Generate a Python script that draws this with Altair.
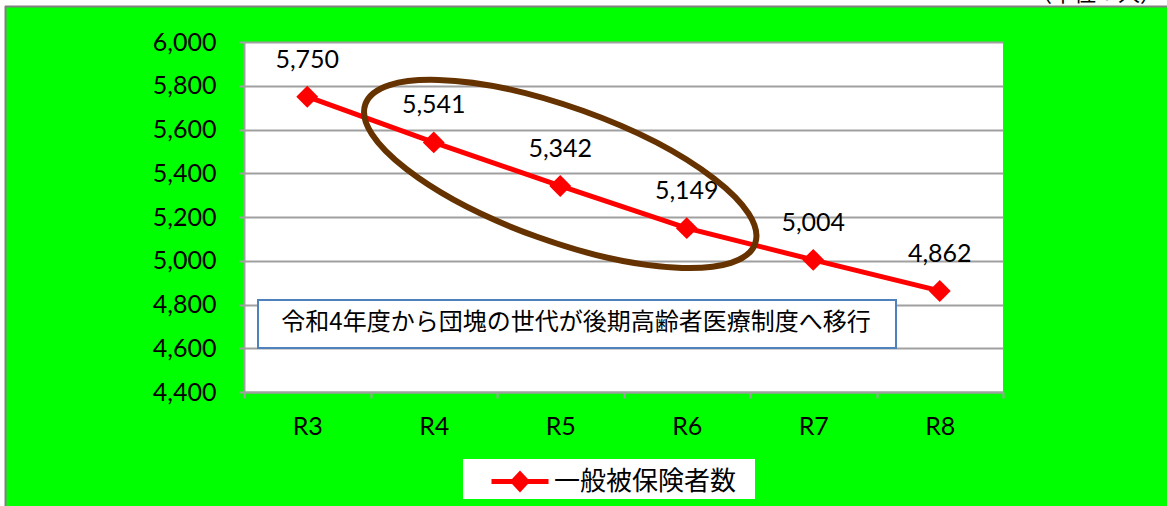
import altair as alt
import pandas as pd

# ---- data ----
categories = ["R3", "R4", "R5", "R6", "R7", "R8"]
values = [5750, 5541, 5342, 5149, 5004, 4862]
series_name = "一般被保険者数"
y_ticks = [4400, 4600, 4800, 5000, 5200, 5400, 5600, 5800, 6000]
note_text = "令和4年度から団塊の世代が後期高齢者医療制度へ移行"
unit_text = "（単位：人）"
highlight_category = ["R5"]
highlight_value = [5397]

df = pd.DataFrame({"年度": categories, "人数": values, "系列": [series_name] * len(categories)})
hl = pd.DataFrame({"年度": highlight_category, "人数": highlight_value})

W, H = 759, 350
PAD_L, PAD_T = 244, 42
NUM_FONT = "Lato"
JP_FONT = "Noto Sans CJK JP"
GRID = "#a0a0a0"
RED = "#FF0000"

x_enc = alt.X(
    "年度:N",
    sort=categories,
    bandPosition=0.5,
    scale=alt.Scale(type="band", domain=categories, paddingInner=0, paddingOuter=0),
    axis=alt.Axis(
        title=None, labelAngle=0, tickBand="extent", grid=False,
        domainColor=GRID, domainWidth=2, tickColor=GRID, tickWidth=2, tickSize=6,
        labelPadding=16, labelFont=NUM_FONT, labelFontSize=25, labelColor="black",
    ),
)
y_enc = alt.Y(
    "人数:Q",
    scale=alt.Scale(domain=[4400, 6000], nice=False, zero=False),
    axis=alt.Axis(
        title=None, values=y_ticks, format=",.0f", grid=True, gridColor=GRID, gridWidth=2,
        domainColor=GRID, domainWidth=2, tickColor=GRID, tickWidth=2, tickSize=5,
        labelPadding=23, labelFont=NUM_FONT, labelFontSize=25, labelColor="black",
    ),
)

one = alt.Data(values=[{}])

# decorative frame: white strip at top/left with a grey border line
frame_top = alt.Chart(one).mark_rect(color="white").encode(
    x=alt.value(-PAD_L), x2=alt.value(1167 - PAD_L), y=alt.value(-PAD_T), y2=alt.value(6 - PAD_T))
frame_left = alt.Chart(one).mark_rect(color="white").encode(
    x=alt.value(-PAD_L), x2=alt.value(5 - PAD_L), y=alt.value(-PAD_T), y2=alt.value(506 - PAD_T))
border_top = alt.Chart(one).mark_rule(color="#808080", strokeWidth=2).encode(
    x=alt.value(5 - PAD_L), x2=alt.value(1167 - PAD_L), y=alt.value(6.5 - PAD_T))
border_left = alt.Chart(one).mark_rule(color="#808080", strokeWidth=2).encode(
    x=alt.value(5.5 - PAD_L), y=alt.value(6 - PAD_T), y2=alt.value(506 - PAD_T))
unit = alt.Chart(one).mark_text(
    text=unit_text, font=JP_FONT, fontSize=22, align="right", baseline="alphabetic", color="black"
).encode(x=alt.value(1162 - PAD_L), y=alt.value(1 - PAD_T))

# annotation text box
note_box = alt.Chart(one).mark_rect(fill="white", stroke="#4F81BD", strokeWidth=2).encode(
    x=alt.value(258 - PAD_L), x2=alt.value(896 - PAD_L), y=alt.value(300 - PAD_T), y2=alt.value(348 - PAD_T))
note = alt.Chart(one).mark_text(
    text=note_text, font=JP_FONT, fontSize=24, align="center", baseline="middle", color="black"
).encode(x=alt.value(576 - PAD_L), y=alt.value(323 - PAD_T))

# legend background box
legend_box = alt.Chart(one).mark_rect(fill="white").encode(
    x=alt.value(463 - PAD_L), x2=alt.value(755 - PAD_L), y=alt.value(459 - PAD_T), y2=alt.value(499 - PAD_T))

legend_symbol = "M -1 0 L 1 0 M -0.24 0 L 0 -0.26 L 0.24 0 L 0 0.26 Z"

base = alt.Chart(df)
line = base.mark_line(strokeWidth=5).encode(
    x=x_enc, y=y_enc,
    color=alt.Color(
        "系列:N",
        scale=alt.Scale(domain=[series_name], range=[RED]),
        legend=alt.Legend(
            title=None, orient="none", legendX=489 - PAD_L, legendY=479 - PAD_T - 28.5,
            symbolType=legend_symbol, symbolSize=57 * 57, symbolStrokeWidth=5,
            symbolFillColor=RED, symbolStrokeColor=RED, symbolOpacity=1,
            labelFont=JP_FONT, labelFontSize=26, labelColor="black", labelOffset=3,
            padding=0, labelLimit=400,
        ),
    ),
)
points = base.mark_point(shape="diamond", filled=True, size=480, color=RED, opacity=1).encode(x=x_enc, y=y_enc)
labels = base.mark_text(font=NUM_FONT, fontSize=25, dy=-37, color="black", baseline="middle").encode(
    x=x_enc, y=y_enc, text=alt.Text("人数:Q", format=","))

ellipse_path = ("M -1 0 C -1 -0.179 -0.552 -0.324 0 -0.324 C 0.552 -0.324 1 -0.179 1 0 "
                "C 1 0.179 0.552 0.324 0 0.324 C -0.552 0.324 -1 0.179 -1 0 Z")
ellipse = alt.Chart(hl).mark_point(
    shape=ellipse_path, size=414 * 414, angle=19.7, filled=False, stroke="#663300",
    strokeWidth=6, opacity=1,
).encode(x=x_enc, y=y_enc)

chart = alt.layer(
    frame_top, frame_left, border_top, border_left, unit,
    note_box, note, legend_box,
    line, points, labels, ellipse,
).properties(
    width=W, height=H,
    autosize=alt.AutoSizeParams(type="none"),
    padding={"left": PAD_L, "top": PAD_T, "right": 1167 - PAD_L - W, "bottom": 506 - PAD_T - H},
    background="#00FF00",
).configure_view(fill="white", stroke=None)

chart.save("out.html", embed_options={"renderer": "svg", "actions": False})
